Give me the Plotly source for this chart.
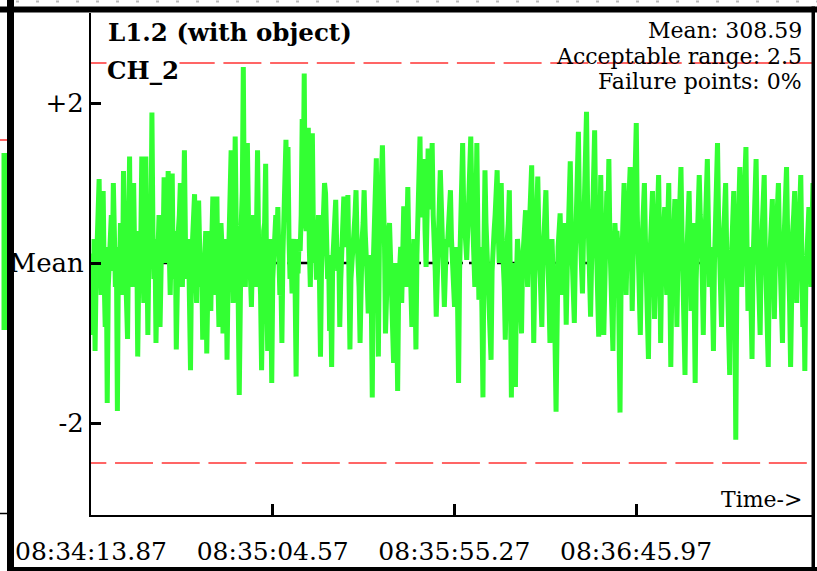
import numpy as np
import plotly.graph_objects as go

# --- Data (deviation from mean) ---
channel_values = [
    # 08:34:13 - 08:35:20
    0.12, -0.4, -0.9, 0.3, -1.1, -0.2, 0.3, 0.6, 1.05, 0.1, -0.4, 0.5, 0.9, -0.2, -0.8, 0.2,
    -1.75, -0.3, 0.2, 0.5, 0.6, -0.1, 1.0, 0.4, -0.3, 0.2, -1.85, 0.1, -0.2, 0.5, 0.3, -0.4,
    1.15, 0.4, 0.0, -0.5, -0.95, 0.3, 1.33, -0.3, 0.2, 0.6, 1.0, 0.1, -0.3, 0.4, -1.17, -0.2,
    0.4, 0.2, 1.33, 0.0, -0.5, 0.5, 1.33, 0.2, -0.9, 0.1, 0.5, 0.3, 1.88, 0.4, -0.2, 0.3,
    -1.0, -0.3, 0.3, 0.6, -0.8, 0.0, 0.6, 0.2, 1.07, 0.3, 0.0, 0.5, 1.15, 0.2, -0.4, 0.3,
    1.12, -0.2, 0.2, 0.4, -1.08, -0.1, 0.4, 0.6, 1.0, 0.2, -0.3, 0.5, 1.41, 0.3, -0.2, 0.1,
    0.3, -0.5, -1.34, 0.0, 0.3, 0.4, 0.86, -0.1, -0.5, 0.3, 0.78, 0.2, -0.3, 0.1, -0.96, -0.2,
    0.3, 0.4, -1.13, 0.0, 0.4, 0.2, -0.6, 0.3, 0.83, 0.1, -0.4, 0.5, 0.83, -0.2, -0.8, 0.0,
    0.5, 0.2, -0.88, -0.1, 0.3, 0.1, -1.21, -0.2, 0.2, 0.6, 1.41, 0.2, -0.5, 0.4, 1.58, 0.5,
    0.0, -0.5, -1.65, -0.1, 0.5, 0.9, 2.45, 0.6, -0.3, 0.4, 1.5, 0.6, 0.2, -0.2, -0.55, 0.1,
    0.6, 0.3, -0.3, 0.4, 1.41, 0.3, 0.0, -0.4, -1.34, -0.2, 0.4, 0.5, 1.24, -0.2, -1.1, 0.0,
    0.3, -0.3, -1.5, -0.2, 0.1, 0.4, 0.6, 0.2, 0.7, 0.1, -0.4, -0.2, -1.0, 0.1, 0.5, 0.7,
    1.54, 0.6, 1.45, 0.3, -0.2, 0.1, -0.38, 0.2, 0.3, -0.3, -1.42, -0.1, -0.1, 0.3, 0.15, 0.6,
    1.8, 0.9, 2.37, 0.5, 0.4, 0.8, 1.69, 0.2, -0.3, 0.6, 1.62, 0.4, 0.0, 0.3, -0.21, 0.2,
    0.6, -0.2, -1.17, -0.1, 0.2, 0.5, 1.0,
    # 08:35:20 - 08:36:25
    0.87, 0.2, -0.2, 0.1, -0.85, -0.3, -1.3, 0.0, 0.3, 0.5, 0.79, 0.2, -0.1, 0.2, -0.8, -0.2,
    0.3, 0.5, 0.83, 0.3, 0.2, 0.5, 0.85, -0.1, -1.08, -0.2, 0.1, 0.2, 0.4, 0.6, 0.91, 0.3,
    0.0, -0.3, -1.0, 0.0, 0.3, 0.5, 0.91, 0.4, 0.2, -0.2, -0.63, 0.0, 0.1, -0.4, -1.68, 0.0,
    0.5, 0.8, 1.31, 0.1, -1.17, 0.2, 0.6, 0.9, 1.47, 0.8, 0.3, -0.88, -0.2, 0.2, 0.4, 0.5,
    0.1, -0.2, -0.5, -1.25, -0.1, 0.0, -0.6, -1.6, -0.3, 0.0, 0.2, -0.5, 0.1, 0.71, 0.2, -0.3,
    0.3, 0.95, 0.2, 0.0, -0.3, -0.8, 0.0, 0.3, -0.2, -1.08, 0.1, 0.5, 0.9, 1.58, 0.6, 0.6,
    0.9, 1.3, 0.4, -0.05, 0.6, 1.43, 0.7, 0.7, 1.0, 1.5, 0.6, 0.3, -0.1, -0.67, 0.1, 0.4,
    0.7, 1.16, 0.5, 0.2, -0.1, -0.55, 0.0, 0.3, 0.2, 0.5, 0.6, 0.91, 0.3, 0.0, -0.2, -0.55,
    0.1, 0.2, -0.5, -1.5, -0.1, 0.6, 0.9, 1.5, 0.7, 0.5, 0.2, 0.04, 0.4, 0.8, 1.1, 1.58,
    0.9, 0.6, 0.2, -0.3, 0.5, 1.5, 0.4, -0.46, -0.1, 0.2, -0.6, -1.68, 0.2, 1.16, 0.5, 0.1,
    -0.1, -0.4, -0.7, -1.21, -0.1, 0.3, 0.4, 0.6, 0.8, 1.16, 0.4, 0.0, 0.5, 1.0, 0.3, 0.1,
    -0.3, -0.96, 0.0, 0.3, 0.5, 0.91, -0.3, -1.68, -0.4, 0.0, -0.5, -1.55, -0.2, 0.3, 0.1, -0.2,
    -0.4, -0.88, 0.0, 0.3, 0.4, 0.66, 0.1, -0.3, 0.2, 0.5, 0.8, 1.22, 0.2, -1.0, -0.2, 0.2,
    0.6, 1.08, 0.4, 0.0, -0.3, -0.8, 0.0, 0.3, 0.6, 0.91, 0.3, 0.0, -0.4, -1.0, 0.1, 0.3,
    -0.1, -0.5, -1.0, -1.86, -0.3, 0.2, 0.4, 0.62, 0.1, -0.4, 0.1, 0.5, 0.0, -0.77, -0.1, 0.3,
    0.7, 1.27, 0.4, 0.0, -0.3, -0.75, 0.1, 0.6, 1.0, 1.64, 0.7, 0.3, -0.1, -0.38, 0.3, 0.8,
    1.3, 1.89, 0.8, 0.4, -0.1, -0.67, 0.0, 0.5, 1.0, 1.66, 0.6, 0.2, -0.3, -0.92, 0.2, 1.1,
    # 08:36:25 - 08:37:37
    0.3, 0.0, -0.9, -0.2, 0.4, 0.9, 0.5, 1.3, 0.3, -0.2, -0.6, -1.1, -0.1, 0.5, 0.2, 0.4,
    0.2, -0.6, -1.87, -0.3, 0.3, 0.6, 1.0, 0.2, -0.4, 0.2, 0.6, 0.9, 1.2, 0.3, -0.6, 0.1,
    0.8, 1.2, 1.75, 0.6, 0.2, -0.3, -0.9, 0.0, 0.5, 0.4, 1.0, 0.3, -0.3, -0.6, -1.2, -0.1,
    0.4, 0.5, 0.9, 0.1, -0.7, -0.2, 0.3, 0.6, 1.1, 0.2, -1.0, -0.1, 0.2, 0.4, 0.7, 0.0,
    -0.4, 0.5, 1.0, -0.2, -1.3, -0.3, 0.1, 0.4, 0.8, 0.1, -0.8, 0.0, 0.4, 0.7, 1.2, 0.4,
    -0.2, -0.6, -1.4, -0.2, 0.3, 0.5, 0.9, 0.2, -0.6, 0.1, 0.5, -0.4, -1.5, -0.2, 0.2, 0.6,
    1.1, 0.6, 0.4, -0.2, -0.9, 0.0, 0.6, 0.8, 1.3, 0.5, -0.3, 0.1, 0.2, -0.4, -1.1, 0.0,
    0.7, 1.0, 1.5, 0.6, 0.1, -0.3, -0.8, 0.0, 0.4, 0.6, 1.0, 0.2, -0.5, -0.8, -1.4, -0.2,
    0.2, 0.5, 0.9, -0.4, -2.21, -0.3, 0.5, 0.8, 1.2, 0.4, -0.3, 0.3, 0.8, 1.0, 1.45, 0.3,
    -0.6, -0.1, 0.2, -0.5, -1.2, 0.0, 0.6, 0.9, 1.3, 0.4, 0.0, -0.4, -0.9, 0.1, 0.4, 0.7,
    1.1, 0.2, -0.4, -0.8, -1.3, -0.1, 0.3, 0.5, 0.8, 0.0, -0.7, 0.1, 0.5, 0.7, 1.0, 0.3,
    -0.2, -0.5, -1.0, 0.1, 0.6, 0.8, 1.2, 0.4, 0.1, -0.5, -1.3, -0.1, 0.4, 0.6, 0.9, 0.2,
    -0.5, 0.1, 0.3, 0.7, 1.1, 0.2, -0.8, -0.3, -1.35, -0.2, 0.2, 0.4, 0.7, 0.1, -0.3, 0.4,
    1.0, 0.5, 0.2, -0.4, -1.0,
]
start_time = np.datetime64('2024-01-01T08:34:13.870')
record_seconds = 202.6        # span of the samples
view_seconds = 201.2          # visible part of the time axis
tick_times = ['2024-01-01 08:34:13.87', '2024-01-01 08:35:04.57',
              '2024-01-01 08:35:55.27', '2024-01-01 08:36:45.97']
tick_labels = ['08:34:13.87', '08:35:04.57', '08:35:55.27', '08:36:45.97']
y_ticks = [2, 0, -2]
y_tick_labels = ['+2', 'Mean', '-2']
limit = 2.5
info_lines = ['Mean: 308.59', 'Acceptable range: 2.5', 'Failure points: 0%']

# --- Geometry (pixels) ---
W, H = 817, 571
L, R, T, B = 91, 812, 13, 515
FONT = 'DejaVu Serif'


def px(x):
    return (x - L) / (R - L)


def py(y):
    return (B - y) / (B - T)


def t_off(sec):
    return start_time + np.timedelta64(int(sec * 1000), 'ms')


n = len(channel_values)
step_ms = record_seconds * 1000 / (n - 1)
times = start_time + (np.arange(n) * step_ms).astype('timedelta64[ms]')
end_time = t_off(view_seconds)

fig = go.Figure()
fig.add_trace(go.Scatter(x=times, y=channel_values, mode='lines',
                         line=dict(color='#33ff33', width=5), hoverinfo='skip'))

shapes = [
    # mean line
    dict(type='line', xref='x', yref='y', x0=start_time, x1=end_time, y0=0, y1=0,
         line=dict(color='black', width=2.5, dash='8px,6px'), layer='below'),
    # acceptable range limits
    dict(type='line', xref='x', yref='y', x0=t_off(-2.15), x1=end_time, y0=limit, y1=limit,
         line=dict(color='#ff3333', width=1.5, dash='38px,8.7px'), layer='below'),
    dict(type='line', xref='x', yref='y', x0=t_off(-6.33), x1=end_time, y0=-limit, y1=-limit,
         line=dict(color='#ff3333', width=1.5, dash='38px,8.7px'), layer='below'),
    # panel frame
    dict(type='rect', xref='paper', yref='paper', x0=px(-2), x1=px(820), y0=py(12.5), y1=py(6.5),
         fillcolor='black', line_width=0),
    dict(type='rect', xref='paper', yref='paper', x0=px(7), x1=px(14), y0=py(575), y1=py(-2),
         fillcolor='black', line_width=0),
    dict(type='rect', xref='paper', yref='paper', x0=px(811.5), x1=px(815), y0=py(575), y1=py(6.5),
         fillcolor='black', line_width=0),
    dict(type='rect', xref='paper', yref='paper', x0=px(7), x1=px(820), y0=py(575), y1=py(567),
         fillcolor='black', line_width=0),
    # bits of the neighbouring panel
    dict(type='line', xref='paper', yref='paper', x0=px(0), x1=px(7), y0=py(513.5), y1=py(513.5),
         line=dict(color='black', width=1.5)),
    dict(type='line', xref='paper', yref='paper', x0=px(0), x1=px(7), y0=py(140), y1=py(140),
         line=dict(color='#ff3333', width=1.5)),
    dict(type='rect', xref='paper', yref='paper', x0=px(1.5), x1=px(7), y0=py(330), y1=py(153),
         fillcolor='#33ff33', line_width=0),
    dict(type='line', xref='paper', yref='paper', x0=px(16), x1=px(817), y0=py(1.5), y1=py(1.5),
         line=dict(color='#bbbbbb', width=2, dash='3px,17px')),
]

annotations = [
    dict(text='<b>L1.2 (with object)</b>', x=px(106), y=py(33), xanchor='left', yanchor='middle',
         font=dict(family=FONT, size=24.5, color='black')),
    dict(text='<b>CH_2</b>', x=px(106), y=py(70), xanchor='left', yanchor='middle',
         bgcolor='white', borderpad=0, font=dict(family=FONT, size=24.5, color='black')),
    dict(text='Time->', x=px(804), y=py(499), xanchor='right', yanchor='middle',
         font=dict(family=FONT, size=22, color='black')),
]
for i, line in enumerate(info_lines):
    annotations.append(dict(text=line, x=px(804), y=py(31 + 25 * i), xanchor='right',
                            yanchor='middle', font=dict(family=FONT, size=22, color='black')))
for a in annotations:
    a.update(xref='paper', yref='paper', showarrow=False)

fig.update_layout(
    width=W, height=H,
    margin=dict(l=L, r=W - R, t=T, b=H - B, pad=0),
    paper_bgcolor='white', plot_bgcolor='white',
    showlegend=False,
    shapes=shapes, annotations=annotations,
    xaxis=dict(type='date', range=[start_time, end_time], tickvals=tick_times, ticktext=tick_labels,
               ticks='inside', ticklen=11, tickwidth=3, tickcolor='black',
               showline=True, linecolor='black', linewidth=2, showgrid=False, zeroline=False,
               tickfont=dict(family=FONT, size=25, color='black'), ticklabelstandoff=13,
               automargin=False),
    yaxis=dict(range=[-(B - 263) / 80, (263 - T) / 80], tickvals=y_ticks, ticktext=y_tick_labels,
               ticks='inside', ticklen=10, tickwidth=3, tickcolor='black',
               showline=True, linecolor='black', linewidth=2, showgrid=False, zeroline=False,
               tickfont=dict(family=FONT, size=26, color='black'), ticklabelstandoff=0,
               automargin=False),
)

# the page has a default body margin; drop it so the figure sits at the window corner
fig.write_html("out.html", config={'displayModeBar': False},
               post_script="document.body.style.margin='0';")
